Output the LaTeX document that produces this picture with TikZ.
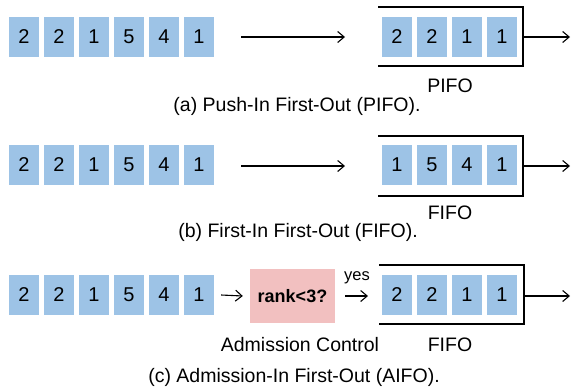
\documentclass[tikz,border=0pt]{standalone}
\usepackage{fontspec}
\setmainfont{Liberation Sans}
\usetikzlibrary{arrows.meta}
\definecolor{cellblue}{RGB}{157,195,230}
\definecolor{acred}{RGB}{242,192,192}
\begin{document}
\begin{tikzpicture}[x=1pt,y=-1pt,
  cell/.style={fill=cellblue, minimum width=30pt, minimum height=40pt, inner sep=0pt, font=\fontsize{20}{24}\selectfont},
  lbl/.style={font=\fontsize{19.5}{23}\selectfont, inner sep=0pt},
  arr/.style={line width=1.1pt, -{Straight Barb[length=6.5pt,width=11pt]}},
  qline/.style={line width=1.4pt},
  acbox/.style={fill=acred, minimum width=85pt, minimum height=54pt, inner sep=0pt, font=\bfseries\fontsize{18}{22}\selectfont},
]
\useasboundingbox (0,0) rectangle (571,391);

% ---------- (a) PIFO ----------
\foreach \v [count=\i] in {2,2,1,5,4,1}
  \node[cell] (a\i) at ({24+35*(\i-1)},37) {\v};
\foreach \v [count=\i] in {2,2,1,1}
  \node[cell] (qa\i) at ({397+35*(\i-1)},37) {\v};
\coordinate (ain) at (241,37);
\coordinate (aend) at (345,37);
\coordinate (aqtl) at (378,7);
\coordinate (aqtr) at (523,7);
\coordinate (aqbr) at (523,66);
\coordinate (aqbl) at (378,66);
\coordinate (aout) at (523,37);
\coordinate (aoutend) at (570,37);
\draw[qline] (aqtl) -- (aqtr) -- (aqbr) -- (aqbl);
\draw[arr] (ain) -- (aend);
\draw[arr] (aout) -- (aoutend);
\node[lbl] (pifo) at (450,86) {PIFO};
\node[lbl] (capa) at (297,106) {(a) Push-In First-Out (PIFO).};

% ---------- (b) FIFO ----------
\foreach \v [count=\i] in {2,2,1,5,4,1}
  \node[cell] (b\i) at ({24+35*(\i-1)},165) {\v};
\foreach \v [count=\i] in {1,5,4,1}
  \node[cell] (qb\i) at ({397+35*(\i-1)},165) {\v};
\coordinate (bin) at (241,166);
\coordinate (bend) at (345,166);
\coordinate (bqtl) at (378,136);
\coordinate (bqtr) at (523,136);
\coordinate (bqbr) at (523,196);
\coordinate (bqbl) at (378,196);
\coordinate (bout) at (523,166);
\coordinate (boutend) at (570,166);
\draw[qline] (bqtl) -- (bqtr) -- (bqbr) -- (bqbl);
\draw[arr] (bin) -- (bend);
\draw[arr] (bout) -- (boutend);
\node[lbl] (fifob) at (450,213) {FIFO};
\node[lbl] (capb) at (298,232) {(b) First-In First-Out (FIFO).};

% ---------- (c) AIFO ----------
\foreach \v [count=\i] in {2,2,1,5,4,1}
  \node[cell] (c\i) at ({24+35*(\i-1)},295) {\v};
\foreach \v [count=\i] in {2,2,1,1}
  \node[cell] (qc\i) at ({397+35*(\i-1)},295) {\v};
\node[acbox] (ac) at (292.5,296) {rank<3?};
\coordinate (cqtl) at (379,265);
\coordinate (cqtr) at (524,265);
\coordinate (cqbr) at (524,324);
\coordinate (cqbl) at (379,324);
\coordinate (cout) at (524,296);
\coordinate (coutend) at (570,296);
\coordinate (yesend) at (368,296);
\draw[qline] (cqtl) -- (cqtr) -- (cqbr) -- (cqbl);
\draw[arr] ([xshift=7pt]c6.east) -- ([xshift=-7pt]ac.west);
\draw[arr] ([xshift=10pt]ac.east) -- (yesend);
\draw[arr] (cout) -- (coutend);
\node[lbl, font=\fontsize{16.5}{20}\selectfont] (yes) at (357,278) {yes};
\node[lbl] (acl) at (300,345) {Admission Control};
\node[lbl] (fifoc) at (450,345) {FIFO};
\node[lbl] (capc) at (294,377) {(c) Admission-In First-Out (AIFO).};
\end{tikzpicture}
\end{document}
